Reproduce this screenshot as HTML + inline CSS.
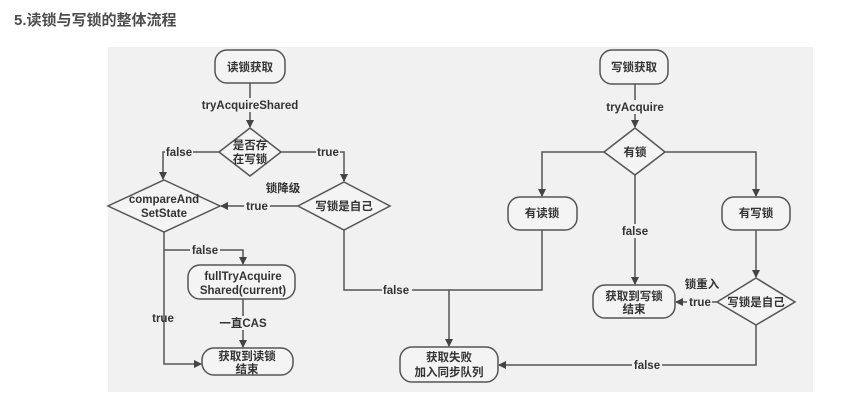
<!DOCTYPE html>
<html><head><meta charset="utf-8"><style>
html,body{margin:0;padding:0;background:#fff;}
body{width:856px;height:411px;overflow:hidden;position:relative;}
.t{position:absolute;left:14px;top:9px;font:bold 15px "Liberation Sans","Noto Sans CJK SC",sans-serif;color:#4d4d4d;}
svg{position:absolute;left:0;top:0;}
text{font-family:"Liberation Sans","Noto Sans CJK SC",sans-serif;font-size:11.5px;font-weight:bold;fill:#333;text-anchor:middle;}
</style></head><body>
<div class="t">5.读锁与写锁的整体流程</div>
<svg width="856" height="411" viewBox="0 0 856 411">
<defs><marker id="a" markerWidth="8" markerHeight="8" refX="7" refY="4" orient="auto" markerUnits="userSpaceOnUse"><path d="M0,0 L8,4 L0,8 z" fill="#444"/></marker></defs>
<rect x="108" y="47" width="705" height="345" fill="#f1f1f1"/>
<g fill="#f4f4f4" stroke="#555" stroke-width="1.5">
<rect x="215" y="50" width="70" height="33" rx="12"/>
<polygon points="250,128 281,152 250,176 219,152"/>
<polygon points="164,180 220,206 164,232 108,206"/>
<polygon points="344,182 390,206 344,230 298,206"/>
<rect x="188" y="265" width="107" height="34" rx="12"/>
<rect x="202" y="348" width="91" height="27" rx="12"/>
<rect x="400" y="347" width="98" height="35" rx="12"/>
<rect x="600" y="50" width="68" height="34" rx="12"/>
<polygon points="635,128 665,152 635,175 604,152"/>
<rect x="508" y="197" width="69" height="33" rx="12"/>
<rect x="722" y="197" width="68" height="33" rx="12"/>
<rect x="593" y="285" width="82" height="33" rx="12"/>
<polygon points="756,278 795,302 756,325 717,302"/>
</g>
<g fill="none" stroke="#555" stroke-width="1.5">
<path d="M250,83 V127" marker-end="url(#a)"/>
<path d="M219,152 H163 V179" marker-end="url(#a)"/>
<path d="M281,152 H344 V181" marker-end="url(#a)"/>
<path d="M298,206 H221" marker-end="url(#a)"/>
<path d="M164,232 V364 H201" marker-end="url(#a)"/>
<path d="M164,250 H243 V264" marker-end="url(#a)"/>
<path d="M243,299 V347" marker-end="url(#a)"/>
<path d="M344,230 V290 H449 V346" marker-end="url(#a)"/>
<path d="M542,230 V290 H449"/>
<path d="M635,84 V127" marker-end="url(#a)"/>
<path d="M604,152 H542 V196" marker-end="url(#a)"/>
<path d="M665,152 H756 V196" marker-end="url(#a)"/>
<path d="M635,175 V284" marker-end="url(#a)"/>
<path d="M756,230 V277" marker-end="url(#a)"/>
<path d="M717,302 H676" marker-end="url(#a)"/>
<path d="M756,325 V365 H499" marker-end="url(#a)"/>
</g>
<g>
<rect x="196" y="98" width="108" height="14" fill="#f1f1f1"/>
<rect x="165" y="145" width="28" height="14" fill="#f1f1f1"/>
<rect x="316" y="145" width="24" height="14" fill="#f1f1f1"/>
<rect x="244" y="199" width="26" height="14" fill="#f1f1f1"/>
<rect x="190" y="243" width="30" height="14" fill="#f1f1f1"/>
<rect x="216" y="316" width="54" height="14" fill="#f1f1f1"/>
<rect x="382" y="283" width="30" height="14" fill="#f1f1f1"/>
<rect x="604" y="100" width="62" height="14" fill="#f1f1f1"/>
<rect x="620" y="224" width="30" height="14" fill="#f1f1f1"/>
<rect x="687" y="295" width="25" height="14" fill="#f1f1f1"/>
<rect x="632" y="358" width="30" height="14" fill="#f1f1f1"/>
</g>
<text x="250" y="71">读锁获取</text>
<text x="250" y="109">tryAcquireShared</text>
<text x="250" y="149" font-size="11">是否存</text>
<text x="250" y="163" font-size="11">在写锁</text>
<text x="179" y="156">false</text>
<text x="328" y="156">true</text>
<text x="164" y="203">compareAnd</text>
<text x="164" y="217">SetState</text>
<text x="283" y="192" font-weight="normal">锁降级</text>
<text x="257" y="210">true</text>
<text x="344" y="210">写锁是自己</text>
<text x="205" y="254">false</text>
<text x="243" y="280">fullTryAcquire</text>
<text x="243" y="294">Shared(current)</text>
<text x="243" y="327">一直CAS</text>
<text x="163" y="322">true</text>
<text x="247" y="360">获取到读锁</text>
<text x="247" y="373">结束</text>
<text x="396" y="294">false</text>
<text x="449" y="361">获取失败</text>
<text x="449" y="376">加入同步队列</text>
<text x="634" y="71">写锁获取</text>
<text x="635" y="111">tryAcquire</text>
<text x="635" y="156">有锁</text>
<text x="542" y="217">有读锁</text>
<text x="756" y="217">有写锁</text>
<text x="635" y="235">false</text>
<text x="634" y="300">获取到写锁</text>
<text x="634" y="313">结束</text>
<text x="702" y="288" font-weight="normal">锁重入</text>
<text x="700" y="306">true</text>
<text x="756" y="306" font-size="11">写锁是自己</text>
<text x="647" y="369">false</text>
</svg>
</body></html>
